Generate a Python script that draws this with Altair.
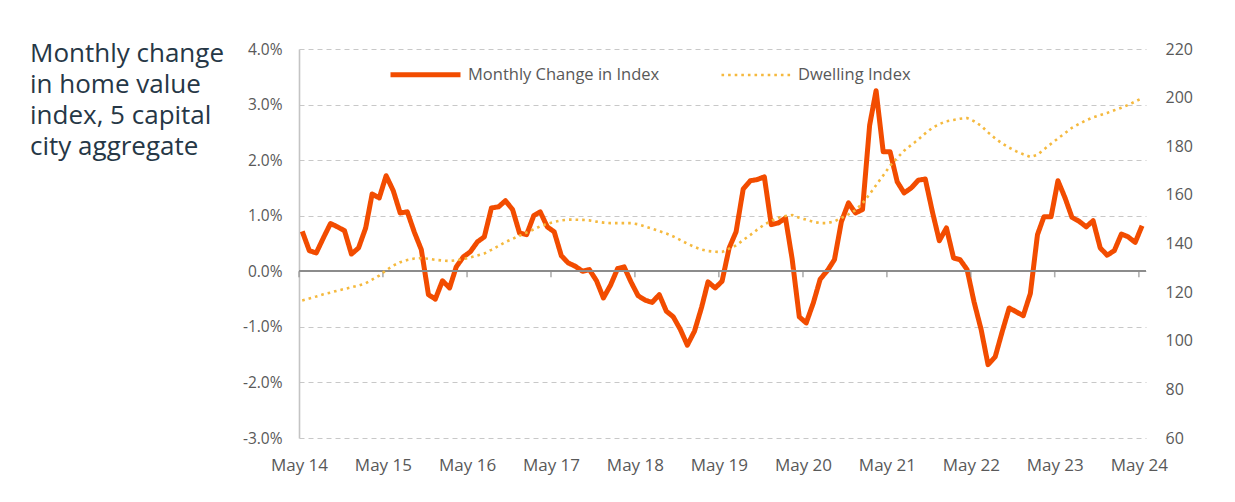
import altair as alt
import pandas as pd

# ---------------- data ----------------
start_months = pd.date_range("2014-05-01", periods=121, freq="MS")
dates = [(m + pd.Timedelta(days=14)).strftime("%Y-%m-%d") for m in start_months]

monthly_change = [
    0.72, 0.37, 0.33, 0.60, 0.86, 0.80, 0.73, 0.31, 0.42, 0.78,
    1.39, 1.32, 1.72, 1.45, 1.05, 1.07, 0.70, 0.39, -0.42, -0.50,
    -0.17, -0.30, 0.08, 0.26, 0.35, 0.53, 0.62, 1.14, 1.16, 1.27,
    1.11, 0.69, 0.66, 1.00, 1.07, 0.80, 0.71, 0.28, 0.15, 0.09,
    0.00, 0.03, -0.17, -0.48, -0.25, 0.05, 0.08, -0.20, -0.44, -0.52,
    -0.56, -0.42, -0.72, -0.82, -1.05, -1.33, -1.08, -0.65, -0.19, -0.30,
    -0.18, 0.42, 0.71, 1.48, 1.63, 1.65, 1.70, 0.84, 0.87, 0.96,
    0.22, -0.82, -0.93, -0.57, -0.14, 0.01, 0.21, 0.89, 1.23, 1.05,
    1.11, 2.63, 3.25, 2.15, 2.15, 1.61, 1.41, 1.50, 1.64, 1.66,
    1.07, 0.55, 0.78, 0.24, 0.21, 0.03, -0.55, -1.05, -1.68, -1.54,
    -1.08, -0.66, -0.73, -0.80, -0.40, 0.66, 0.98, 0.98, 1.63, 1.32,
    0.97, 0.90, 0.80, 0.91, 0.42, 0.29, 0.37, 0.67, 0.62, 0.52,
    0.82,
]

dwelling_index = [
    116.6, 117.4, 118.2, 119.1, 119.8, 120.6, 121.3, 122.0, 122.7, 123.6,
    125.1, 126.8, 129.0, 130.9, 132.3, 133.2, 133.8, 134.0, 133.7, 133.3,
    133.0, 132.8, 133.1, 133.6, 134.3, 135.1, 135.9, 137.4, 139.0, 140.6,
    141.9, 143.2, 144.5, 145.8, 147.1, 148.1, 148.9, 149.5, 149.8, 149.8,
    149.7, 149.5, 149.0, 148.6, 148.4, 148.4, 148.4, 148.4, 147.9, 147.0,
    146.1, 145.1, 144.1, 142.9, 141.4, 139.9, 138.6, 137.5, 136.9, 136.6,
    136.5, 137.9, 139.2, 141.4, 143.5, 145.7, 147.8, 149.3, 150.6, 151.3,
    151.7, 150.6, 149.8, 148.9, 148.4, 148.4, 149.1, 150.5, 152.0, 153.7,
    156.5, 160.3, 164.0, 168.0, 172.0, 175.2, 178.2, 180.5, 182.8, 185.3,
    187.6, 189.1, 190.3, 190.8, 191.3, 191.6, 190.3, 188.4, 185.7, 183.2,
    181.1, 179.4, 177.9, 176.7, 175.6, 176.5, 178.7, 181.0, 183.2, 185.4,
    187.6, 189.2, 190.7, 191.9, 192.8, 193.7, 194.8, 195.8, 197.0, 198.4,
    199.8,
]

tick_years = list(range(2014, 2025))
tick_dates = [f"{y}-05-01" for y in tick_years]
left_ticks = [-3, -2, -1, 0, 1, 2, 3, 4]
right_ticks = [60, 80, 100, 120, 140, 160, 180, 200, 220]

series_names = ["Monthly Change in Index", "Dwelling Index"]
series_colors = ["#F24C00", "#F5B93E"]
title_lines = ["Monthly change", "in home value", "index, 5 capital", "city aggregate"]

df = pd.DataFrame({"date": dates, "change": monthly_change, "index": dwelling_index})
ticks_df = pd.DataFrame({"date": tick_dates})
title_df = pd.DataFrame({"k": [0]})

FONT = "Open Sans"
LABEL_COLOR = "#595959"

x_scale = alt.Scale(type="utc", domain=[alt.DateTime(year=2014, month=5, date=1, utc=True),
                                        alt.DateTime(year=2024, month=6, date=1, utc=True)])
x_axis = alt.Axis(
    values=[alt.DateTime(year=y, month=5, date=1, utc=True) for y in tick_years],
    labelExpr="'May ' + utcFormat(datum.value, '%y')",
    title=None, domain=False, ticks=False, grid=False,
    labelFlush=False, labelOverlap=False, labelBound=False,
    labelPadding=19, labelFontSize=17, labelColor=LABEL_COLOR, labelFont=FONT,
)

legend = alt.Legend(
    orient="none", legendX=89, legendY=-12, direction="horizontal", title=None,
    symbolType="stroke", symbolSize=4900, labelFontSize=16.5, labelColor=LABEL_COLOR,
    labelFont=FONT, labelOffset=5, columnPadding=56, labelLimit=400,
)
color_scale = alt.Scale(domain=series_names, range=series_colors)
dash_scale = alt.Scale(domain=series_names, range=[[1, 0], [2.6, 4.0]])
width_scale = alt.Scale(domain=series_names, range=[5, 2.6])


def styled(chart):
    return chart.encode(
        color=alt.Color("series:N", scale=color_scale, legend=legend),
        strokeDash=alt.StrokeDash("series:N", scale=dash_scale, legend=legend),
        strokeWidth=alt.StrokeWidth("series:N", scale=width_scale, legend=legend),
    )


base = alt.Chart(df)

y_left = alt.Y(
    "change:Q",
    scale=alt.Scale(domain=[-3, 4], nice=False),
    axis=alt.Axis(
        values=left_ticks,
        labelExpr="replace(format(datum.value, '.1f'), '\u2212', '-') + '%'",
        title=None, orient="left", ticks=False, labelPadding=17,
        labelFontSize=15.5, labelColor=LABEL_COLOR, labelFont=FONT,
        domain=True, domainColor="#C4C4C4", domainWidth=1.6,
        grid=True, gridColor="#C8C8C8", gridDash=[5, 4], gridWidth=1,
    ),
)

monthly_line = styled(
    base.transform_calculate(series=f"'{series_names[0]}'")
    .mark_line(strokeJoin="round")
    .encode(x=alt.X("date:T", scale=x_scale, axis=x_axis), y=y_left)
)

zero_rule = base.mark_rule(color="#8C8C8C", strokeWidth=1.6).encode(
    y=alt.datum(0),
)

zero_ticks = alt.Chart(ticks_df).mark_tick(
    orient="vertical", color="#8C8C8C", size=6, thickness=1.6, yOffset=3
).encode(
    x=alt.X("date:T"),
    y=alt.datum(0),
)

title_text = alt.Chart(title_df).mark_text(
    text=title_lines, align="left", baseline="alphabetic", lineHeight=31,
    font=FONT, fontSize=26, color="#263746",
).encode(x=alt.value(-269), y=alt.value(13))

left = alt.layer(monthly_line, zero_rule, zero_ticks, title_text)

dwelling_line = styled(
    base.transform_calculate(series=f"'{series_names[1]}'")
    .mark_line()
    .encode(
        x=alt.X("date:T"),
        y=alt.Y(
            "index:Q",
            scale=alt.Scale(domain=[60, 220], nice=False),
            axis=alt.Axis(
                values=right_ticks, title=None, orient="right", ticks=False,
                domain=False, grid=False, labelPadding=19, labelFontSize=16,
                labelColor=LABEL_COLOR, labelFont=FONT,
            ),
        ),
    )
)

chart = (
    alt.layer(left, dwelling_line)
    .resolve_scale(y="independent")
    .properties(
        width=847, height=389,
        autosize=alt.AutoSizeParams(type="none"),
        padding={"left": 291, "top": 41, "right": 81, "bottom": 56},
        background="white",
    )
    .configure_view(stroke=None)
)

chart.save("out.html", embed_options={"renderer": "svg", "actions": False})
